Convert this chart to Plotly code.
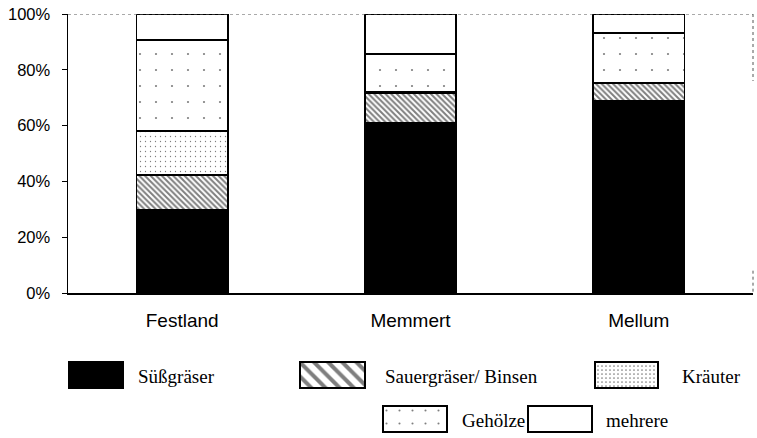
import plotly.graph_objects as go

# ---- data (percent shares) ----
categories = ["Festland", "Memmert", "Mellum"]
suessgraeser = [29.7, 61.0, 68.8]
sauergraeser = [12.6, 10.6, 6.5]
kraeuter = [15.7, 0.4, 0.2]
gehoelze = [32.7, 13.7, 17.7]
mehrere = [9.3, 14.3, 6.8]
y_ticks = [0, 20, 40, 60, 80, 100]
y_tick_labels = ["0%", "20%", "40%", "60%", "80%", "100%"]

series_names = ["Süßgräser", "Sauergräser/ Binsen", "Kräuter", "Gehölze", "mehrere"]
series_values = [suessgraeser, sauergraeser, kraeuter, gehoelze, mehrere]

# ---- styles ----
bar_styles = [
    dict(color="black", pattern=dict(shape="")),
    dict(color="white", pattern=dict(shape="\\", size=4, solidity=0.5, fgcolor="black", bgcolor="white", fillmode="overlay")),
    dict(color="white", pattern=dict(shape=".", size=5, solidity=0.05, fgcolor="black", bgcolor="white", fillmode="overlay")),
    dict(color="white", pattern=dict(shape=".", size=16, solidity=0.015, fgcolor="black", bgcolor="white", fillmode="overlay")),
    dict(color="white", pattern=dict(shape="")),
]
legend_styles = [
    dict(color="black", pattern=dict(shape="")),
    dict(color="white", pattern=dict(shape="\\", size=10, solidity=0.4, fgcolor="black", bgcolor="white", fillmode="overlay")),
    dict(color="white", pattern=dict(shape=".", size=4, solidity=0.15, fgcolor="black", bgcolor="white", fillmode="overlay")),
    dict(color="white", pattern=dict(shape=".", size=13, solidity=0.02, fgcolor="black", bgcolor="white", fillmode="overlay")),
    dict(color="white", pattern=dict(shape="")),
]
# legend layout in window-pixel units of the auxiliary axes: (left, top, width, height, label_x)
legend_layout = [
    (58, 362, 65, 26, 136),
    (300, 362, 65, 26, 383),
    (595, 362, 63, 26, 680),
    (383, 406, 64, 26, 460),
    (528, 406, 64, 26, 604),
]

W, H = 757, 438
PLOT_L, PLOT_R, PLOT_T, PLOT_B = 68, 753, 14, 293   # window pixels
AUX_T, AUX_B = 300, 436
ML, MR, MT = PLOT_L, W - PLOT_R, PLOT_T
MB = H - AUX_B
plot_h = H - MT - MB
main_bottom = (H - MB - PLOT_B) / plot_h
aux_top = (H - MB - AUX_T) / plot_h

fig = go.Figure()

for name, vals, st in zip(series_names, series_values, bar_styles):
    fig.add_trace(go.Bar(
        x=categories, y=vals, name=name,
        marker=dict(color=st["color"], pattern=st["pattern"],
                    line=dict(color="black", width=1.5)),
        showlegend=False, xaxis="x", yaxis="y",
    ))

# custom legend swatches on auxiliary axes
for (left, top, w, h, lx), name, st in zip(legend_layout, series_names, legend_styles):
    fig.add_trace(go.Bar(
        x=[left + w / 2], y=[h], base=[top], width=[w],
        marker=dict(color=st["color"], pattern=st["pattern"],
                    line=dict(color="black", width=1.5)),
        showlegend=False, hoverinfo="skip", xaxis="x2", yaxis="y2",
    ))
    fig.add_annotation(
        x=lx, y=top + h / 2 + 1, xref="x2", yref="y2", text=name,
        showarrow=False, xanchor="left", yanchor="middle",
        font=dict(family="Liberation Serif, Times New Roman, serif", size=19, color="black"),
    )

# plot frame: dotted top and right edge
fig.add_shape(type="line", xref="x domain", yref="y", x0=0, x1=1, y0=100, y1=100,
              line=dict(color="#555555", width=1, dash="dot"))
fig.add_shape(type="line", xref="x domain", yref="y", x0=1, x1=1, y0=100, y1=76,
              line=dict(color="#555555", width=1, dash="dot"))
fig.add_shape(type="line", xref="x domain", yref="y", x0=1, x1=1, y0=8, y1=0,
              line=dict(color="#555555", width=1, dash="dot"))

fig.update_layout(
    width=W, height=H,
    margin=dict(l=ML, r=MR, t=MT, b=MB, autoexpand=False),
    barmode="stack", bargap=0.6,
    plot_bgcolor="white", paper_bgcolor="white",
    font=dict(family="Liberation Sans, Arial, sans-serif", size=18, color="black"),
    xaxis=dict(domain=[0, 1], anchor="y", showgrid=False, showline=True,
               linecolor="black", linewidth=1.5, ticks="", tickfont=dict(size=19),
               ticklabelstandoff=10, automargin=False),
    yaxis=dict(domain=[main_bottom, 1], anchor="x", range=[0, 100],
               tickvals=y_ticks, ticktext=y_tick_labels, showgrid=False,
               showline=True, linecolor="black", linewidth=1.5,
               ticks="outside", ticklen=5, tickcolor="black", zeroline=False,
               tickfont=dict(size=16.5), ticklabelstandoff=8, automargin=False,
               ticklabeloverflow="allow"),
    xaxis2=dict(domain=[0, 1], anchor="y2", range=[PLOT_L, PLOT_R], visible=False,
                fixedrange=True),
    yaxis2=dict(domain=[0, aux_top], anchor="x2", range=[AUX_B, AUX_T],
                visible=False, fixedrange=True),
)

fig.write_html(
    "out.html",
    config={"displayModeBar": False, "staticPlot": True},
    post_script="document.body.style.margin='0';document.body.style.overflow='hidden';",
)
